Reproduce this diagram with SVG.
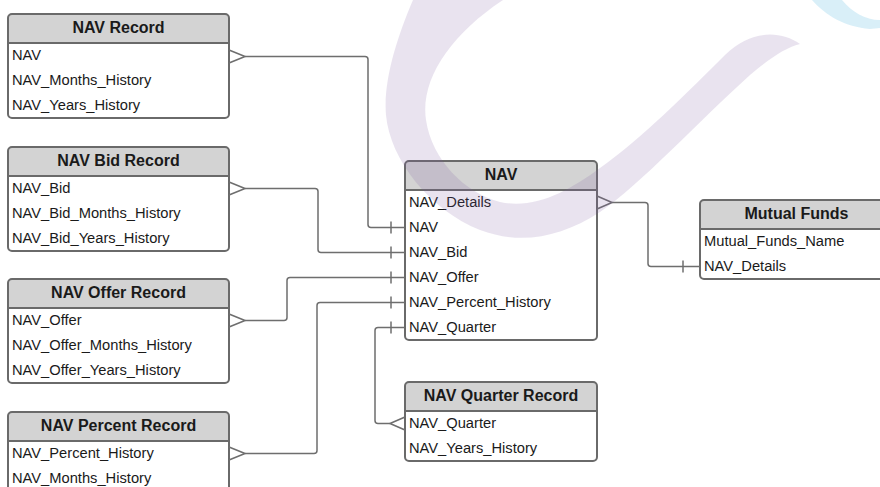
<svg xmlns="http://www.w3.org/2000/svg" width="880" height="487" viewBox="0 0 880 487">
<style>
  .box{fill:#ffffff;stroke:none}
  .hdr{fill:#d3d3d3;stroke:none}
  .div{stroke:#6a6a6a;stroke-width:2}
  .frame{fill:none;stroke:#6a6a6a;stroke-width:2}
  .h{font-family:"Liberation Sans",Arial,sans-serif;font-weight:bold;font-size:16px;fill:#1a1a1a;text-anchor:middle}
  .t{font-family:"Liberation Sans",Arial,sans-serif;font-size:14.7px;fill:#1a1a1a}
  .c{fill:none;stroke:#6e6e6e;stroke-width:1.5;stroke-linejoin:round}
</style>
<rect width="880" height="487" fill="#ffffff"/>

<g id="nav-record" transform="translate(8,14)">
  <rect class="box" width="221" height="104" rx="4"/>
  <path class="hdr" d="M0,29 V4 a4,4 0 0 1 4,-4 H217 a4,4 0 0 1 4,4 V29 Z"/>
  <line class="div" x1="0" y1="29" x2="221" y2="29"/>
  <rect class="frame" width="221" height="104" rx="4"/>
  <text class="h" x="110.5" y="19">NAV Record</text>
  <text class="t" x="4" y="46">NAV</text>
  <text class="t" x="4" y="71">NAV_Months_History</text>
  <text class="t" x="4" y="96">NAV_Years_History</text>
</g>

<g id="nav-bid-record" transform="translate(8,147)">
  <rect class="box" width="221" height="104" rx="4"/>
  <path class="hdr" d="M0,29 V4 a4,4 0 0 1 4,-4 H217 a4,4 0 0 1 4,4 V29 Z"/>
  <line class="div" x1="0" y1="29" x2="221" y2="29"/>
  <rect class="frame" width="221" height="104" rx="4"/>
  <text class="h" x="110.5" y="19">NAV Bid Record</text>
  <text class="t" x="4" y="46">NAV_Bid</text>
  <text class="t" x="4" y="71">NAV_Bid_Months_History</text>
  <text class="t" x="4" y="96">NAV_Bid_Years_History</text>
</g>

<g id="nav-offer-record" transform="translate(8,279)">
  <rect class="box" width="221" height="104" rx="4"/>
  <path class="hdr" d="M0,29 V4 a4,4 0 0 1 4,-4 H217 a4,4 0 0 1 4,4 V29 Z"/>
  <line class="div" x1="0" y1="29" x2="221" y2="29"/>
  <rect class="frame" width="221" height="104" rx="4"/>
  <text class="h" x="110.5" y="19">NAV Offer Record</text>
  <text class="t" x="4" y="46">NAV_Offer</text>
  <text class="t" x="4" y="71">NAV_Offer_Months_History</text>
  <text class="t" x="4" y="96">NAV_Offer_Years_History</text>
</g>

<g id="nav-percent-record" transform="translate(8,412)">
  <rect class="box" width="221" height="104" rx="4"/>
  <path class="hdr" d="M0,29 V4 a4,4 0 0 1 4,-4 H217 a4,4 0 0 1 4,4 V29 Z"/>
  <line class="div" x1="0" y1="29" x2="221" y2="29"/>
  <rect class="frame" width="221" height="104" rx="4"/>
  <text class="h" x="110.5" y="19">NAV Percent Record</text>
  <text class="t" x="4" y="46">NAV_Percent_History</text>
  <text class="t" x="4" y="71">NAV_Months_History</text>
</g>

<g id="nav" transform="translate(405,161)">
  <rect class="box" width="192" height="179" rx="4"/>
  <path class="hdr" d="M0,29 V4 a4,4 0 0 1 4,-4 H188 a4,4 0 0 1 4,4 V29 Z"/>
  <line class="div" x1="0" y1="29" x2="192" y2="29"/>
  <rect class="frame" width="192" height="179" rx="4"/>
  <text class="h" x="96" y="19">NAV</text>
  <text class="t" x="4" y="46">NAV_Details</text>
  <text class="t" x="4" y="71">NAV</text>
  <text class="t" x="4" y="96">NAV_Bid</text>
  <text class="t" x="4" y="121">NAV_Offer</text>
  <text class="t" x="4" y="146">NAV_Percent_History</text>
  <text class="t" x="4" y="171">NAV_Quarter</text>
</g>

<g id="nav-quarter-record" transform="translate(405,382)">
  <rect class="box" width="192" height="79" rx="4"/>
  <path class="hdr" d="M0,29 V4 a4,4 0 0 1 4,-4 H188 a4,4 0 0 1 4,4 V29 Z"/>
  <line class="div" x1="0" y1="29" x2="192" y2="29"/>
  <rect class="frame" width="192" height="79" rx="4"/>
  <text class="h" x="96" y="19">NAV Quarter Record</text>
  <text class="t" x="4" y="46">NAV_Quarter</text>
  <text class="t" x="4" y="71">NAV_Years_History</text>
</g>

<g id="mutual-funds" transform="translate(700,200)">
  <rect class="box" width="193" height="79" rx="4"/>
  <path class="hdr" d="M0,29 V4 a4,4 0 0 1 4,-4 H189 a4,4 0 0 1 4,4 V29 Z"/>
  <line class="div" x1="0" y1="29" x2="193" y2="29"/>
  <rect class="frame" width="193" height="79" rx="4"/>
  <text class="h" x="96.5" y="19">Mutual Funds</text>
  <text class="t" x="4" y="46">Mutual_Funds_Name</text>
  <text class="t" x="4" y="71">NAV_Details</text>
</g>

<g id="connectors">
  <path class="c" d="M229,50 L245,56.5 L229,63"/>
  <path class="c" d="M245,56.5 H365 Q368,56.5 368,59.5 V224.5 Q368,227.5 371,227.5 H405"/>
  <path class="c" d="M391,221.5 V233.5"/>
  <path class="c" d="M229,182 L245,188.5 L229,195"/>
  <path class="c" d="M245,188.5 H315 Q318,188.5 318,191.5 V249.5 Q318,252.5 321,252.5 H405"/>
  <path class="c" d="M391,246.5 V258.5"/>
  <path class="c" d="M229,314 L245,320.5 L229,327"/>
  <path class="c" d="M245,320.5 H284 Q287,320.5 287,317.5 V280.5 Q287,277.5 290,277.5 H405"/>
  <path class="c" d="M391,271.5 V283.5"/>
  <path class="c" d="M229,447 L245,453.5 L229,460"/>
  <path class="c" d="M245,453.5 H314 Q317,453.5 317,450.5 V305.5 Q317,302.5 320,302.5 H405"/>
  <path class="c" d="M391,296.5 V308.5"/>
  <path class="c" d="M405,327.5 H378 Q375,327.5 375,330.5 V420.5 Q375,423.5 378,423.5 H390"/>
  <path class="c" d="M391,321.5 V333.5"/>
  <path class="c" d="M405,417 L390,423.5 L405,430"/>
  <path class="c" d="M597,196 L612,202.5 L597,209"/>
  <path class="c" d="M612,202.5 H645 Q648,202.5 648,205.5 V263.5 Q648,266.5 651,266.5 H700"/>
  <path class="c" d="M683,260.5 V272.5"/>
</g>

<path d="M413,0 C398,35 383,80 386,115 C390,160 430,210 480,230 C520,245 560,238 600,212 C640,185 700,120 750,75 C770,58 785,48 800,44 C780,30 750,30 725,55 C690,90 640,140 600,168 C570,190 535,210 500,202 C465,193 432,160 426,120 C420,80 450,35 503,0 Z" fill="#7a5a9e" fill-opacity="0.17"/>
<path d="M812,0 C825,15 845,27 870,29 L880,28 L880,20 C865,20 852,12 842,0 Z" fill="#9fd6ee" fill-opacity="0.4"/>
</svg>
